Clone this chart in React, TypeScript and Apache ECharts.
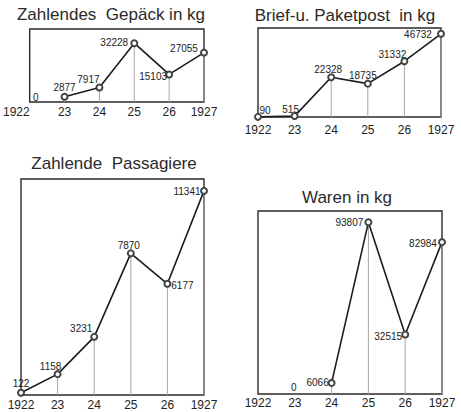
import React, { useEffect, useRef } from 'react';
import * as echarts from 'echarts';

const years = ['1922', '23', '24', '25', '26', '1927'];
const gepaeck: (number | null)[] = [0, 2877, 7917, 32228, 15103, 27055];
const post: (number | null)[] = [90, 515, 22328, 18735, 31332, 46732];
const passagiere: (number | null)[] = [122, 1158, 3231, 7870, 6177, 11341];
const waren: (number | null)[] = [null, 0, 6066, 93807, 32515, 82984];
const titles = ['Zahlendes  Gepäck in kg', 'Brief-u. Paketpost  in kg', 'Zahlende  Passagiere', 'Waren in kg'];
const yMax = [40000, 50000, 12000, 100000];

// layout / style (not data)
const grids = [
  { left: 20, top: 29, width: 184, height: 73 },
  { left: 258, top: 28, width: 183, height: 89 },
  { left: 21, top: 179, width: 183, height: 216 },
  { left: 258, top: 211, width: 184, height: 183 },
];
const titlePos = [
  [111, 14],
  [345, 15],
  [114, 163],
  [347, 197],
];
const labelMargins = [4, 7, 4, 3];
const labelOffsets = [
  [[6, -6], [0, -9], [-11, -8], [-20, -1], [-16, 2], [-20, -4]],
  [[7, -6], [-4, -7], [-3, -8], [-5, -8], [-12, -7], [-23, 1]],
  [[0, -9], [-7, -8], [-13, -8], [-2, -8], [15, 2], [-17, 1]],
  [[0, 0], [-1, -8], [-14, 0], [-19, 0], [-17, 2], [-19, 1]],
];

const FONT = '"Liberation Sans", Arial, sans-serif';
const INK = '#1c1c1c';

export default function App() {
  const ref = useRef<HTMLDivElement>(null);
  useEffect(() => {
    if (!ref.current) return;
    const chart = echarts.init(ref.current, undefined, { renderer: 'svg' });
    const panels = [gepaeck, post, passagiere, waren];
    const series: any[] = [];
    panels.forEach((vals, i) => {
      series.push({
        type: 'bar',
        xAxisIndex: i,
        yAxisIndex: i,
        data: vals.map((v) => (v == null ? '-' : v)),
        barWidth: 1,
        itemStyle: { color: '#a8a8a8' },
        silent: true,
        z: 1,
      });
      series.push({
        type: 'line',
        xAxisIndex: i,
        yAxisIndex: i,
        data: vals.map((v, j) =>
          v == null || v === 0 ? '-' : { value: v, label: { offset: labelOffsets[i][j] } }
        ),
        symbol: 'emptyCircle',
        symbolSize: 6,
        lineStyle: { color: INK, width: 1.6 },
        itemStyle: { color: '#444', borderWidth: 0.8 },
        label: { show: true, position: 'inside', fontSize: 10, color: '#222', fontFamily: FONT },
        z: 3,
      });
      // zero values: label only, no marker, not joined to the line
      series.push({
        type: 'line',
        xAxisIndex: i,
        yAxisIndex: i,
        data: vals.map((v, j) =>
          v === 0 ? { value: 0, label: { offset: [labelOffsets[i][j][0], labelOffsets[i][j][1] + 6] } } : '-'
        ),
        symbol: 'circle',
        symbolSize: 0,
        showSymbol: true,
        lineStyle: { width: 0 },
        itemStyle: { color: '#222' },
        label: {
          show: true,
          position: 'top',
          distance: 0,
          formatter: '0',
          fontSize: 10,
          color: '#222',
          fontFamily: FONT,
        },
        z: 4,
      });
    });
    chart.setOption({
      animation: false,
      backgroundColor: '#ffffff',
      grid: grids.map((g) => ({ ...g, show: true, borderColor: '#2a2a2a', borderWidth: 1.4, backgroundColor: 'transparent' })),
      xAxis: grids.map((_, i) => ({
        type: 'category',
        gridIndex: i,
        data: years,
        boundaryGap: false,
        axisLine: { show: false },
        axisTick: { show: false },
        splitLine: { show: false },
        axisLabel: {
          color: '#222',
          fontSize: 12,
          fontFamily: FONT,
          margin: labelMargins[i],
          interval: 0,
          alignMinLabel: i === 0 ? 'right' : 'center',
        },
      })),
      yAxis: grids.map((_, i) => ({
        type: 'value',
        gridIndex: i,
        min: 0,
        max: yMax[i],
        show: false,
        splitLine: { show: false },
      })),
      graphic: titles.map((t, i) => ({
        type: 'text',
        x: titlePos[i][0],
        y: titlePos[i][1],
        style: {
          text: t,
          fill: '#2a2a2a',
          font: `17px ${FONT}`,
          textAlign: 'center',
          textVerticalAlign: 'middle',
          align: 'center',
          verticalAlign: 'middle',
        },
      })),
      series,
    });
    return () => chart.dispose();
  }, []);
  return <div ref={ref} style={{ position: 'absolute', left: 0, top: 0, width: 461, height: 412 }} />;
}
